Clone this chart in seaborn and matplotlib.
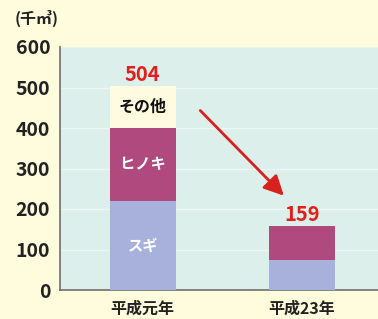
import pandas as pd
import seaborn as sns
import matplotlib.pyplot as plt

# --- Data (千㎥) ---
years = ['平成元年', '平成23年']
sugi = [220, 75]
hinoki = [180, 84]
other = [104, 0]
totals = [504, 159]

df = pd.DataFrame({'year': years, 'スギ': sugi, 'ヒノキ': hinoki, 'その他': other})
df['s1'] = df['スギ']
df['s2'] = df['スギ'] + df['ヒノキ']
df['s3'] = df['s2'] + df['その他']

sns.set_theme(style='white')
plt.rcParams['font.family'] = ['Noto Sans CJK JP', 'DejaVu Sans']

bg = '#FFFBDD'
fig = plt.figure(figsize=(3.78, 3.19), dpi=100, facecolor=bg)
ax = fig.add_axes([60 / 378, (319 - 290) / 319, (378 - 60) / 378, 243 / 319])
ax.set_facecolor('#DDEFEA')

# stacked bars: draw from top layer down
w = 0.415
sns.barplot(data=df, x='year', y='s3', color='#FFFBE0', width=w, saturation=1,
            linewidth=0, ax=ax, zorder=3)
sns.barplot(data=df, x='year', y='s2', color='#B04A7E', width=w, saturation=1,
            linewidth=0, ax=ax, zorder=3)
sns.barplot(data=df, x='year', y='s1', color='#A8B0DC', width=w, saturation=1,
            linewidth=0, ax=ax, zorder=3)

ax.set_ylim(0, 600)
ax.set_xlim(-0.52, 1.48)
ax.set_yticks(range(0, 601, 100))
ax.grid(axis='y', color='#EAF6F3', linewidth=1.0, zorder=0)
ax.set_xlabel('')
ax.set_ylabel('')

for s in ['top', 'right']:
    ax.spines[s].set_visible(False)
for s in ['left', 'bottom']:
    ax.spines[s].set_color('#6E6E6E')
    ax.spines[s].set_linewidth(1.2)

ax.tick_params(axis='y', direction='in', length=3, width=1, color='#6E6E6E',
               labelsize=14, pad=7, labelcolor='#222222')
ax.tick_params(axis='x', length=0, labelsize=11.5, pad=8, labelcolor='#222222')
for lab in ax.get_yticklabels() + ax.get_xticklabels():
    lab.set_fontweight('bold')

# segment labels in first bar
ax.text(0, sugi[0] / 2, 'スギ', ha='center', va='center', color='white',
        fontsize=11, fontweight='bold', zorder=5)
ax.text(0, sugi[0] + hinoki[0] / 2, 'ヒノキ', ha='center', va='center', color='white',
        fontsize=11, fontweight='bold', zorder=5)
ax.text(0, sugi[0] + hinoki[0] + other[0] / 2, 'その他', ha='center', va='center',
        color='#111111', fontsize=11.5, fontweight='bold', zorder=5)

# totals
for i, t in enumerate(totals):
    ax.text(i, t + 1, str(t), ha='center', va='bottom', color='#E0201C',
            fontsize=14.5, fontweight='bold', zorder=5)

# arrow
ax.annotate('', xy=(0.90, 228), xytext=(0.35, 448),
            arrowprops=dict(arrowstyle='-|>,head_length=1.0,head_width=0.5',
                            color='#D8201E', lw=2.0), zorder=6)

fig.text(15 / 378, 1 - 18 / 319, '(千㎥)', ha='left', va='center', fontsize=11.5,
         fontweight='bold', color='#222222')

fig.savefig('out.png', dpi=100, facecolor=bg)
